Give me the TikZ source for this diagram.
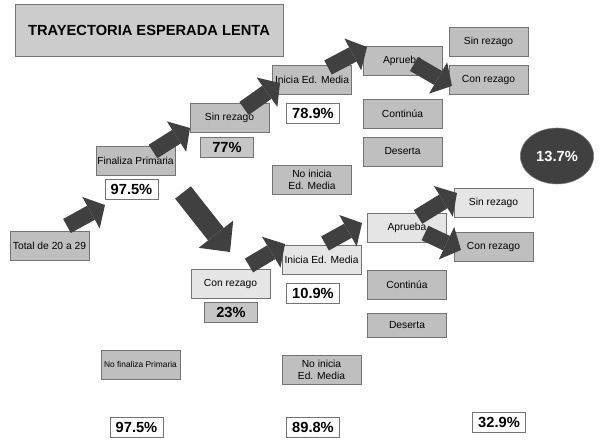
\documentclass[tikz,border=0pt]{standalone}
\usepackage{fontspec}
\setmainfont{Liberation Sans}
\usetikzlibrary{arrows.meta,shapes.geometric}

\begin{document}
\begin{tikzpicture}[
  x=0.75pt, y=-0.75pt,
  font=\fontsize{7.7}{8.8}\selectfont,
  box/.style={draw=black!55, fill=gray!50, align=center, minimum width=59pt, minimum height=21.5pt, inner sep=1pt},
  lightbox/.style={box, fill=gray!20},
  pct/.style={draw=black!55, fill=white, minimum width=39.5pt, minimum height=15pt, inner sep=1pt, font=\fontsize{11}{13}\selectfont\bfseries},
  pctgray/.style={pct, fill=gray!45},
  headline/.style={draw=black!55, fill=gray!40, minimum width=201pt, minimum height=39pt, font=\fontsize{11}{13}\selectfont\bfseries},
  oval/.style={ellipse, draw=black!50, fill=black!75, text=white, minimum width=55pt, minimum height=42pt, inner sep=0pt, font=\fontsize{11}{13}\selectfont\bfseries},
  blk/.style={line width=12pt, color=black!75, -{Triangle[width=27pt, length=12pt, line width=0pt]}},
  bigblk/.style={line width=15pt, color=black!75, -{Triangle[width=33pt, length=17pt, line width=0pt]}}
]
  \useasboundingbox (0,0) rectangle (601,445);

  % Title
  \node[headline] (title) at (149,30) {TRAYECTORIA ESPERADA LENTA};

  % Upper path (finaliza primaria, sin rezago)
  \node[box] (tot) at (49.5,246) {Total de 20 a 29};
  \node[box] (fin) at (135.5,160.5) {Finaliza Primaria};
  \node[pct] (p975a) at (131.5,189) {97.5\%};
  \node[box] (sr1) at (229.5,118) {Sin rezago};
  \node[pctgray] (p77) at (227,147) {77\%};
  \node[box] (im1) at (312,80) {Inicia Ed. Media};
  \node[pct] (p789) at (313,113) {78.9\%};
  \node[box] (ni1) at (312,179.5) {No inicia\\Ed. Media};
  \node[box] (ap1) at (402.5,60.5) {Aprueba};
  \node[box] (co1) at (402.5,113.5) {Continúa};
  \node[box] (de1) at (402.5,151.5) {Deserta};
  \node[box] (sz1) at (488.5,42) {Sin rezago};
  \node[box] (cz1) at (488.5,80) {Con rezago};
  \node[oval] (r137) at (557,156) {13.7\%};

  % Lower path (con rezago)
  \node[lightbox] (cr2) at (230.5,284) {Con rezago};
  \node[pctgray] (p23) at (231,312.5) {23\%};
  \node[lightbox] (im2) at (321.5,260) {Inicia Ed. Media};
  \node[pct] (p109) at (313,293.5) {10.9\%};
  \node[lightbox] (ap2) at (407,227.5) {Aprueba};
  \node[box] (co2) at (407,284.5) {Continúa};
  \node[box, minimum height=18pt] (de2) at (407,325) {Deserta};
  \node[lightbox] (sz2) at (493.5,203) {Sin rezago};
  \node[box] (cz2) at (493.5,246.5) {Con rezago};

  % Bottom row
  \node[box, font=\fontsize{6.3}{7.5}\selectfont] (nf) at (140.5,365) {No finaliza Primaria};
  \node[box] (ni2) at (321.5,370) {No inicia\\Ed. Media};
  \node[pct] (p975b) at (136.5,427) {97.5\%};
  \node[pct] (p898) at (313,427) {89.8\%};
  \node[pct] (p329) at (499,422) {32.9\%};

  % Block arrows
  \draw[blk] ([shift={(17.5,-20)}]tot.center) -- ([shift={(-30.5,44.5)}]fin.center);
  \draw[blk] ([shift={(17.5,-9)}]fin.center) -- ([shift={(-39.5,10)}]sr1.center);
  \draw[blk] ([shift={(14.5,-9.5)}]sr1.center) -- ([shift={(-32,3)}]im1.center);
  \draw[blk] ([shift={(16,-12.5)}]im1.center) -- ([shift={(-35.5,-13.5)}]ap1.center);
  \draw[blk] ([shift={(11.5,3.5)}]ap1.center) -- ([shift={(-36.5,6)}]cz1.center);
  \draw[bigblk] ([shift={(47.5,32)}]fin.center) -- ([shift={(-0.5,-32)}]cr2.center);
  \draw[blk] ([shift={(18.5,-18.5)}]cr2.center) -- ([shift={(-36.5,-16)}]im2.center);
  \draw[blk] ([shift={(3.5,-16.5)}]im2.center) -- ([shift={(-45,-4.5)}]ap2.center);
  \draw[blk] ([shift={(11,-10.5)}]ap2.center) -- ([shift={(-36.5,-10)}]sz2.center);
  \draw[blk] ([shift={(18,5.5)}]ap2.center) -- ([shift={(-32.5,3.5)}]cz2.center);
\end{tikzpicture}
\end{document}
